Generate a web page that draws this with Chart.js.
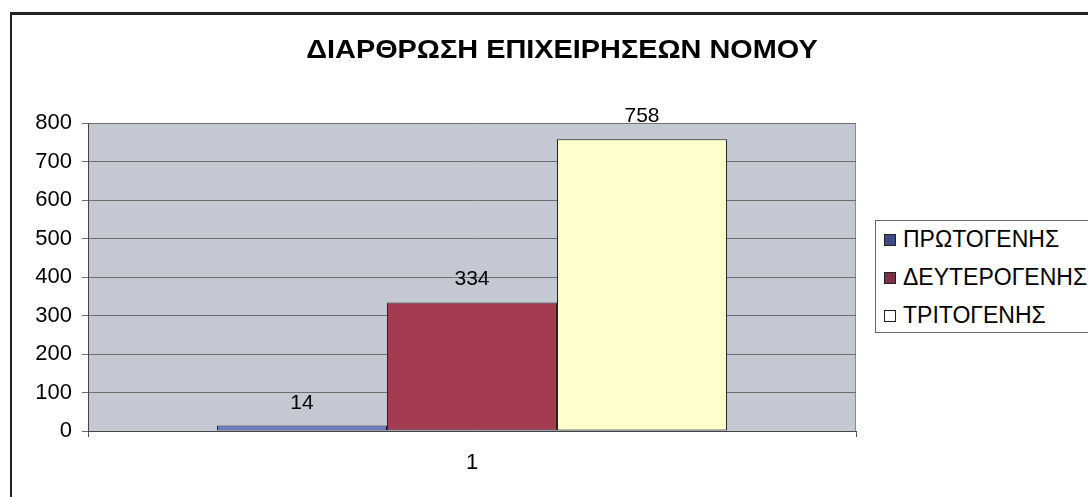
<!DOCTYPE html>
<html>
<head>
<meta charset="utf-8">
<script src="https://cdn.jsdelivr.net/npm/chart.js@4.4.1/dist/chart.umd.min.js"></script>
<style>
    html, body { margin: 0; padding: 0; background: #fff; overflow: hidden; }
    body { width: 1088px; height: 497px; position: relative; font-family: "Liberation Sans", Arial, sans-serif; }
    #frame { position: absolute; left: 10px; top: 12px; width: 1200px; height: 600px; border-left: 2px solid #222; border-top: 3px solid #222; }
    #wrap { position: absolute; left: 11px; top: 0; width: 1102px; height: 497px; }
    #legend { position: absolute; left: 875px; top: 220px; width: 240px; height: 111px; border: 1px solid #666; background: #fff; }
    .legend-item { position: absolute; left: 8px; height: 24px; line-height: 24px; font-size: 23px; color: #000; white-space: nowrap; }
    .legend-box { display: inline-block; width: 10px; height: 10px; margin-right: 7px; vertical-align: 1px; border: 1px solid #222; }
</style>
</head>
<body>
<div id="frame"></div>
<div id="wrap"><canvas id="chart" width="1102" height="497"></canvas></div>
<div id="legend"></div>
<script>
// Δεδομένα
const chartTitle = 'ΔΙΑΡΘΡΩΣΗ ΕΠΙΧΕΙΡΗΣΕΩΝ ΝΟΜΟΥ';
const categories = ['1'];
const seriesNames = ['ΠΡΩΤΟΓΕΝΗΣ', 'ΔΕΥΤΕΡΟΓΕΝΗΣ', 'ΤΡΙΤΟΓΕΝΗΣ'];
const seriesValues = [[14], [334], [758]];
const seriesColors = ['#6a7bcf', '#a63a50', '#ffffcc'];
const legendColors = ['#3d4a85', '#7d3146', '#ffffff'];
const yTicks = [0, 100, 200, 300, 400, 500, 600, 700, 800];

const fontFamily = '"Liberation Sans", Arial, sans-serif';

// Fundo da área do gráfico
const plotBackground = {
    id: 'plotBackground',
    beforeDraw(chart) {
        const { ctx, chartArea: a } = chart;
        ctx.save();
        ctx.fillStyle = '#c4c8d3';
        ctx.fillRect(a.left, a.top, a.right - a.left, a.bottom - a.top);
        ctx.strokeStyle = '#8a8a8a';
        ctx.lineWidth = 1;
        ctx.strokeRect(a.left + 0.5, a.top + 0.5, a.right - a.left - 1, a.bottom - a.top);
        ctx.restore();
    }
};

// Título centrado na largura total do gráfico (a legenda não o desloca)
const chartHeading = {
    id: 'chartHeading',
    afterDraw(chart) {
        const { ctx } = chart;
        ctx.save();
        ctx.font = 'bold 26px ' + fontFamily;
        ctx.fillStyle = '#000';
        ctx.textAlign = 'center';
        ctx.textBaseline = 'alphabetic';
        ctx.translate(chart.width / 2, 58);
        ctx.scale(1.11, 1);
        ctx.fillText(chartTitle, 0, 0);
        ctx.restore();
    }
};

// Rótulos de valor acima das barras
const valueLabels = {
    id: 'valueLabels',
    afterDatasetsDraw(chart) {
        const { ctx } = chart;
        ctx.save();
        ctx.font = '21px ' + fontFamily;
        ctx.fillStyle = '#000';
        ctx.textAlign = 'center';
        ctx.textBaseline = 'alphabetic';
        chart.data.datasets.forEach((ds, i) => {
            chart.getDatasetMeta(i).data.forEach((bar, j) => {
                ctx.fillText(String(ds.data[j]), bar.x, bar.y - 17);
            });
        });
        ctx.restore();
    }
};

new Chart(document.getElementById('chart'), {
    type: 'bar',
    data: {
        labels: categories,
        datasets: seriesNames.map((name, i) => ({
            label: name,
            data: seriesValues[i],
            backgroundColor: seriesColors[i],
            borderColor: '#222',
            borderWidth: 1,
            borderSkipped: false,
            categoryPercentage: 0.664,
            barPercentage: 1.0
        }))
    },
    options: {
        responsive: false,
        animation: false,
        layout: { padding: { left: 0, right: 257, top: 123, bottom: 0 } },
        plugins: {
            legend: { display: false },
            tooltip: { enabled: false },
            title: { display: false }
        },
        scales: {
            x: {
                grid: { drawOnChartArea: false, color: '#555', tickLength: 6 },
                border: { color: '#444' },
                ticks: { color: '#000', font: { family: fontFamily, size: 22 }, padding: 13 },
                afterFit(scale) { scale.height = 66; }
            },
            y: {
                min: 0,
                max: 800,
                afterBuildTicks(scale) { scale.ticks = yTicks.map(v => ({ value: v })); },
                grid: { color: '#6e6e6e', tickLength: 6 },
                border: { color: '#444' },
                ticks: { color: '#000', font: { family: fontFamily, size: 22 }, padding: 10 },
                afterFit(scale) { scale.width = 77; }
            }
        }
    },
    plugins: [plotBackground, valueLabels, chartHeading]
});

// Legenda
const legend = document.getElementById('legend');
seriesNames.forEach((name, i) => {
    const item = document.createElement('div');
    item.className = 'legend-item';
    item.style.top = (6 + i * 38) + 'px';
    item.innerHTML = `<span class="legend-box" style="background:${legendColors[i]}"></span>${name}`;
    legend.appendChild(item);
});
</script>
</body>
</html>
